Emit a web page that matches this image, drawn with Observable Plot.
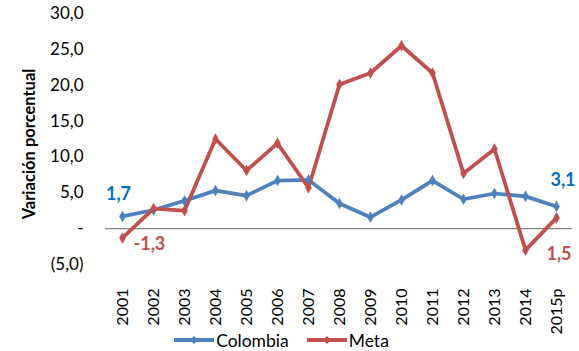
<!DOCTYPE html>
<html><head><meta charset="utf-8">
<script src="https://cdn.jsdelivr.net/npm/d3@7"></script>
<script src="https://cdn.jsdelivr.net/npm/@observablehq/plot@0.6"></script>
<style>
body{margin:0;background:#fff;font-family:Lato,"Open Sans",sans-serif;position:relative;width:579px;height:351px;overflow:hidden;}
#chart svg{display:block;overflow:visible;}
#legend{position:absolute;left:0;top:329px;width:579px;box-sizing:border-box;padding-right:16px;display:flex;justify-content:center;align-items:center;height:22px;font-size:17.5px;color:#000;font-family:Lato,"Open Sans",sans-serif;}
.item{display:flex;align-items:center;margin:0 9px;}
.item svg{margin-right:2px;}
</style></head><body><div id="chart"></div><div id="legend"></div>
<script>
const years = ["2001","2002","2003","2004","2005","2006","2007","2008","2009","2010","2011","2012","2013","2014","2015p"];
const colombia = [1.7,2.6,3.9,5.3,4.6,6.7,6.8,3.5,1.6,4.0,6.7,4.1,4.9,4.5,3.1];
const meta = [-1.3,2.8,2.5,12.5,8.1,11.9,5.7,20.1,21.7,25.5,21.7,7.7,11.1,-3.0,1.5];
const yTicks = [-5,0,5,10,15,20,25,30];
const seriesNames = ["Colombia","Meta"];
const seriesColors = ["#4F81BD","#C0504D"];
const labelColors = ["#0070C0","#C0504D"];
const yTitle = "Variación porcentual";

const fmt = d => d === 0 ? "-" : d < 0 ? "(" + Math.abs(d).toFixed(1).replace(".", ",") + ")" : d.toFixed(1).replace(".", ",");
const lab = d => d.toFixed(1).replace(".", ",");

const rows = [];
[colombia, meta].forEach((arr, s) => arr.forEach((v, i) => rows.push({year: years[i], value: v, series: seriesNames[s], idx: i})));
const last = years.length - 1;
const pick = (s, i) => rows.filter(r => r.series === seriesNames[s] && r.idx === i);

const textOpts = {x: "year", y: "value", text: d => lab(d.value), fontWeight: "bold", fontSize: 18};

const plot = Plot.plot({
  width: 579, height: 330,
  marginLeft: 105, marginRight: 7, marginTop: 13, marginBottom: 66,
  style: {fontFamily: "Lato, 'Open Sans', sans-serif", background: "#fff", color: "#000", overflow: "visible"},
  x: {type: "point", domain: years, padding: 0.5},
  y: {domain: [-5, 30]},
  color: {domain: seriesNames, range: seriesColors},
  marks: [
    Plot.axisY({ticks: yTicks, tickFormat: fmt, tickSize: 0, tickPadding: 22, fontSize: 17, label: null}),
    Plot.axisX({tickRotate: -90, tickSize: 0, tickPadding: 24, fontSize: 16, label: null}),
    Plot.text([yTitle], {frameAnchor: "left", textAnchor: "middle", rotate: -90, dx: -76, dy: 5, fontWeight: "bold", fontSize: 16.5, text: d => d}),
    Plot.ruleY([0], {stroke: "#868686", strokeWidth: 1.2}),
    Plot.line(rows, {x: "year", y: "value", z: "series", stroke: "series", strokeWidth: 3.75, strokeLinejoin: "miter"}),
    Plot.dot(rows, {x: "year", y: "value", fill: "series", symbol: "diamond", r: 3.5}),
    Plot.text(pick(0, 0), {...textOpts, fill: labelColors[0], dx: -4, dy: -22}),
    Plot.text(pick(1, 0), {...textOpts, fill: labelColors[1], textAnchor: "start", dx: 11, dy: 6}),
    Plot.text(pick(0, last), {...textOpts, fill: labelColors[0], dx: 6.5, dy: -26}),
    Plot.text(pick(1, last), {...textOpts, fill: labelColors[1], dx: 2.5, dy: 36})
  ]
});
document.getElementById("chart").appendChild(plot);

const legend = document.getElementById("legend");
seriesNames.forEach((name, i) => {
  const item = document.createElement("div");
  item.className = "item";
  item.innerHTML = `<svg width="40" height="10"><line x1="0" y1="5" x2="40" y2="5" stroke="${seriesColors[i]}" stroke-width="4"/><path d="M20,1L24,5L20,9L16,5Z" fill="${seriesColors[i]}"/></svg><span>${name}</span>`;
  legend.appendChild(item);
});
</script>
</body></html>
